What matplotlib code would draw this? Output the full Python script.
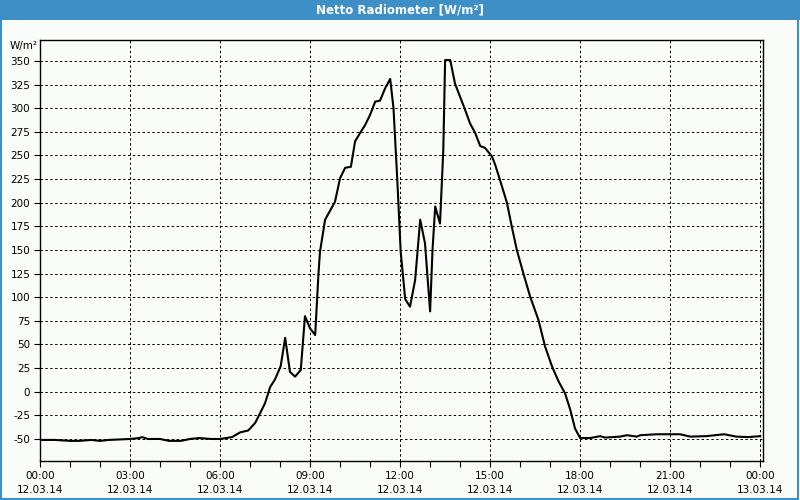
import matplotlib
matplotlib.use("Agg")
import matplotlib.pyplot as plt
from matplotlib.patches import Rectangle

# Zeit in Stunden ab 12.03.14 00:00, Netto-Strahlung in W/m²
hours = [0.0, 0.5, 1.0, 1.3, 1.7, 2.0, 2.3, 3.0, 3.3, 3.4, 3.6, 4.0, 4.3, 4.7,
         5.0, 5.3, 5.7, 6.0, 6.4, 6.67, 6.94, 7.17, 7.33, 7.5, 7.67, 7.83,
         8.02, 8.17, 8.33, 8.5, 8.69, 8.83, 9.0, 9.17, 9.28, 9.33, 9.5, 9.83,
         10.0, 10.17, 10.36, 10.5, 10.67, 10.83, 11.0, 11.17, 11.33, 11.5,
         11.67, 11.78, 11.91, 12.02, 12.17, 12.33, 12.5, 12.67, 12.83, 13.0,
         13.08, 13.17, 13.33, 13.44, 13.5, 13.67, 13.83, 14.0, 14.17, 14.33,
         14.5, 14.67, 14.83, 15.06, 15.17, 15.33, 15.56, 15.72, 15.89, 16.11,
         16.33, 16.61, 16.83, 17.06, 17.28, 17.5, 17.67, 17.83, 18.0, 18.33,
         18.67, 18.83, 19.33, 19.56, 19.89, 20.0, 20.56, 21.33, 21.67, 22.2,
         22.5, 22.8, 23.2, 23.6, 24.0]
values = [-51, -51, -52, -52, -51, -52, -51, -50, -49, -48, -50, -50, -52, -52,
          -50, -49, -50, -50, -48, -43, -41, -33, -23, -12, 5, 13,
          27, 57, 21, 16, 23, 80, 67, 60, 125, 148, 182, 201,
          226, 237, 238, 265, 274, 282, 293, 307, 308, 321,
          331, 300, 222, 148, 98, 90, 118, 182, 157, 85,
          150, 196, 178, 256, 351, 351, 326, 312, 298, 284,
          274, 260, 258, 249, 240, 224, 200, 175, 150, 125,
          101, 76, 48, 27, 11, -2, -19, -39, -49, -49,
          -47, -48.5, -47.5, -46, -47.5, -46, -45, -45, -47.5, -47,
          -46, -45, -47.5, -48, -47]

x_ticks = [0, 3, 6, 9, 12, 15, 18, 21, 24]
x_labels = ["00:00\n12.03.14", "03:00\n12.03.14", "06:00\n12.03.14",
            "09:00\n12.03.14", "12:00\n12.03.14", "15:00\n12.03.14",
            "18:00\n12.03.14", "21:00\n12.03.14", "00:00\n13.03.14"]
y_ticks = list(range(-50, 351, 25))

plt.rcParams['font.family'] = ['DejaVu Sans']

bg = '#fafcfa'
blue = '#3d8fc6'

fig = plt.figure(figsize=(8, 5), dpi=100, facecolor=bg)

# Titelleiste und Rahmen
fig.patches.append(Rectangle((0, 0.96), 1, 0.04, transform=fig.transFigure,
                             facecolor=blue, edgecolor='none', zorder=0))
fig.patches.append(Rectangle((0.001, 0.002), 0.997, 0.996, transform=fig.transFigure,
                             facecolor='none', edgecolor=blue, linewidth=1.5, zorder=0))
fig.text(0.5, 0.981, "Netto Radiometer [W/m²]", color='white', fontsize=8.5,
         fontweight='bold', ha='center', va='center')

ax = fig.add_axes([0.05, 0.078, 0.904, 0.842])
ax.set_facecolor(bg)
ax.plot(hours, values, color='black', linewidth=1.5)

ax.set_xlim(0, 24.1)
ax.set_ylim(-73.3, 372.2)
ax.set_xticks(x_ticks)
ax.set_xticklabels(x_labels, fontsize=7.5, linespacing=1.55)
ax.set_xticks(range(0, 25), minor=True)
ax.set_yticks(y_ticks)
ax.set_yticklabels([str(v) for v in y_ticks], fontsize=7.5)
ax.tick_params(axis='both', which='both', direction='out', length=4, width=0.8)
ax.tick_params(axis='x', pad=3)
ax.tick_params(axis='y', pad=3)

ax.grid(True, which='major', color='black', linestyle=(0, (2.5, 2.5)), linewidth=0.7)
for s in ax.spines.values():
    s.set_linewidth(1.0)

fig.text(0.012, 0.907, "W/m²", fontsize=7.5, ha='left', va='center')

fig.savefig("out.png", dpi=100, facecolor=bg)
